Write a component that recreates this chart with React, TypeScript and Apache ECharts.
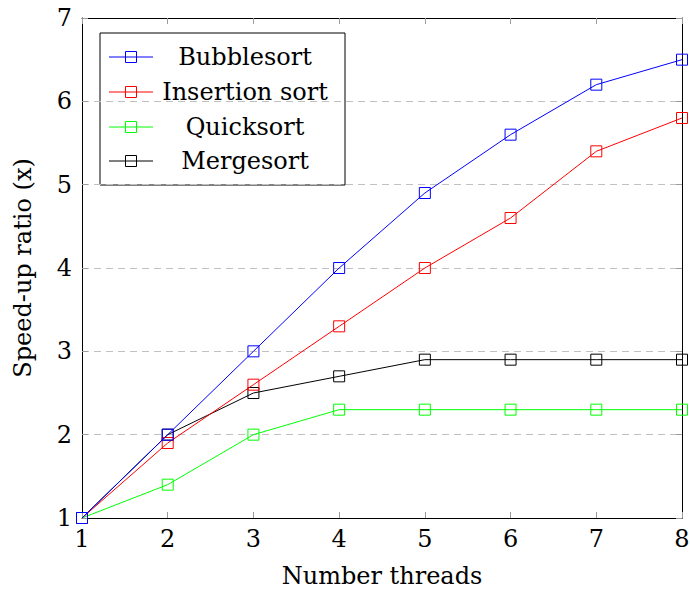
import React, { useEffect, useRef } from "react";
import * as echarts from "echarts";

const threads = [1, 2, 3, 4, 5, 6, 7, 8];
const seriesNames = ["Bubblesort", "Insertion sort", "Quicksort", "Mergesort"];
const seriesColors = ["#0000ff", "#ff0000", "#00ff00", "#000000"];
const bubblesort = [1, 2, 3, 4, 4.9, 5.6, 6.2, 6.5];
const insertionSort = [1, 1.9, 2.6, 3.3, 4, 4.6, 5.4, 5.8];
const quicksort = [1, 1.4, 2, 2.3, 2.3, 2.3, 2.3, 2.3];
const mergesort = [1, 2, 2.5, 2.7, 2.9, 2.9, 2.9, 2.9];
const seriesValues = [bubblesort, insertionSort, quicksort, mergesort];
const xTitle = "Number threads";
const yTitle = "Speed-up ratio (x)";

const FONT = "DejaVu Serif";

export default function App() {
  const ref = useRef<HTMLDivElement>(null);
  useEffect(() => {
    if (!ref.current) return;
    const chart = echarts.init(ref.current, null, { renderer: "svg" });
    const tick = { show: true, inside: true, length: 6, lineStyle: { color: "#9a9a9a", width: 1 } };
    const axLine = { show: true, lineStyle: { color: "#000", width: 1 } };
    const legendX = 100, legendY = 33, legendW = 245, legendH = 152;
    const rowYs = [57, 92, 127, 161];
    const legendChildren: any[] = [
      {
        type: "rect",
        shape: { x: legendX, y: legendY, width: legendW, height: legendH },
        style: { fill: "#fff", stroke: "#000", lineWidth: 1 },
      },
    ];
    seriesNames.forEach((name, i) => {
      const y = rowYs[i];
      legendChildren.push({
        type: "line",
        shape: { x1: 109, y1: y, x2: 153, y2: y },
        style: { stroke: seriesColors[i], lineWidth: 1 },
      });
      legendChildren.push({
        type: "rect",
        shape: { x: 131 - 5.5, y: y - 5.5, width: 11, height: 11 },
        style: { fill: "none", stroke: seriesColors[i], lineWidth: 1 },
      });
      legendChildren.push({
        type: "text",
        x: 245,
        y: y,
        style: {
          text: name,
          font: `24px "${FONT}"`,
          fill: "#000",
          align: "center",
          verticalAlign: "middle",
        },
      });
    });
    chart.setOption({
      animation: false,
      backgroundColor: "#fff",
      textStyle: { fontFamily: FONT },
      grid: { left: 82, right: 8, top: 18, bottom: 72, containLabel: false, outerBoundsMode: "none" },
      xAxis: [
        {
          type: "value",
          min: 1,
          max: 8,
          interval: 1,
          name: xTitle,
          nameLocation: "middle",
          nameGap: 46,
          nameTextStyle: { fontSize: 24, lineHeight: 24, color: "#000", fontFamily: FONT },
          axisLine: axLine,
          axisTick: tick,
          axisLabel: { fontSize: 24, color: "#000", margin: 9, fontFamily: FONT },
          splitLine: { show: false },
        },
        {
          type: "value",
          position: "top",
          min: 1,
          max: 8,
          interval: 1,
          axisLine: axLine,
          axisTick: tick,
          axisLabel: { show: false },
          splitLine: { show: false },
        },
      ],
      yAxis: [
        {
          type: "value",
          min: 1,
          max: 7,
          interval: 1,
          name: yTitle,
          nameLocation: "middle",
          nameGap: 47,
          nameTextStyle: { fontSize: 24, lineHeight: 24, color: "#000", fontFamily: FONT },
          axisLine: axLine,
          axisTick: tick,
          axisLabel: { fontSize: 24, color: "#000", margin: 10, fontFamily: FONT },
          splitLine: { show: true, lineStyle: { color: "#c0c0c0", type: [7, 5], width: 1 } },
        },
        {
          type: "value",
          position: "right",
          min: 1,
          max: 7,
          interval: 1,
          axisLine: axLine,
          axisTick: tick,
          axisLabel: { show: false },
          splitLine: { show: false },
        },
      ],
      series: seriesNames.map((name, i) => ({
        name,
        type: "line",
        data: threads.map((t, j) => [t, seriesValues[i][j]]),
        symbol: "rect",
        symbolSize: 11,
        lineStyle: { color: seriesColors[i], width: 1 },
        itemStyle: { color: "rgba(0,0,0,0)", borderColor: seriesColors[i], borderWidth: 1 },
        emphasis: { disabled: true },
        z: 10 - i,
      })),
      graphic: [{ type: "group", children: legendChildren, z: 100 }],
    });
    return () => chart.dispose();
  }, []);
  return (
    <div
      ref={ref}
      style={{ position: "fixed", left: 0, top: 0, width: 690, height: 590 }}
    />
  );
}
